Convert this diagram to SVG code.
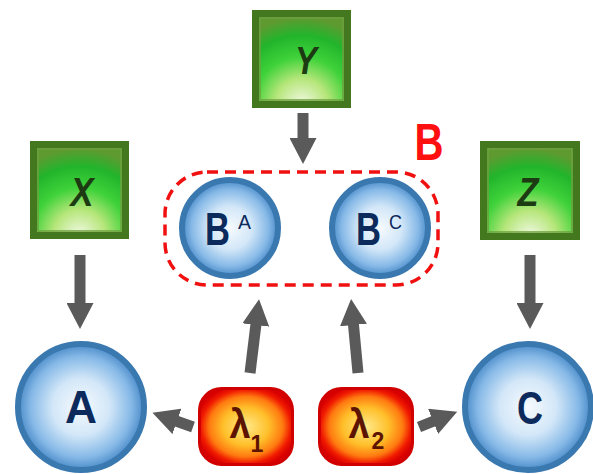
<svg xmlns="http://www.w3.org/2000/svg" width="593" height="474" viewBox="0 0 593 474">
<defs>
<radialGradient id="gGreen" cx="0.5" cy="1" r="0.95" fx="0.5" fy="1">
<stop offset="0" stop-color="#f2f9e6"/>
<stop offset="0.3" stop-color="#b6e67a"/>
<stop offset="0.55" stop-color="#3fd23a"/>
<stop offset="0.8" stop-color="#22b52c"/>
<stop offset="1" stop-color="#5e9a30"/>
</radialGradient>
<radialGradient id="gBlue" cx="0.5" cy="0.5" r="0.5">
<stop offset="0" stop-color="#f6fafd"/>
<stop offset="0.45" stop-color="#d3e7f8"/>
<stop offset="0.8" stop-color="#86b9e7"/>
<stop offset="1" stop-color="#4a8ac8"/>
</radialGradient>
<radialGradient id="gRed" cx="0.5" cy="0.5" r="0.55">
<stop offset="0" stop-color="#ffe98a"/>
<stop offset="0.45" stop-color="#ffbf2a"/>
<stop offset="0.72" stop-color="#ff7a10"/>
<stop offset="0.88" stop-color="#f01a00"/>
<stop offset="1" stop-color="#d80000"/>
</radialGradient>
<marker id="ah" viewBox="0 0 26 27" markerWidth="26" markerHeight="27" refX="1" refY="13.5" orient="auto" markerUnits="userSpaceOnUse">
<path d="M0,0 L26,13.5 L0,27 Z" fill="#5a5a5a"/>
</marker>
<style>
.box{fill:url(#gGreen);stroke:#44781f;stroke-width:7}
.boxin{fill:none;stroke:#6fa040;stroke-width:1.5}
.circ{fill:url(#gBlue);stroke:#3a78b0;stroke-width:6}
.lam{fill:url(#gRed);stroke:#d00000;stroke-width:3}
.gl{font-family:"Liberation Sans",Arial,sans-serif;font-weight:bold;font-style:italic;fill:#1c3b12;text-anchor:middle}
.bl{font-family:"Liberation Sans",Arial,sans-serif;font-weight:bold;fill:#0d2a5c}
.sup{font-family:"Liberation Sans",Arial,sans-serif;font-weight:normal;fill:#0d2a5c}
.rl{font-family:"Liberation Sans",Arial,sans-serif;font-weight:bold;fill:#5c1400}
.conn line{stroke:#5a5a5a;stroke-width:11;marker-end:url(#ah)}
</style>
</defs>
<rect width="593" height="474" fill="#ffffff"/>

<g id="groupB">
<rect x="165" y="172" width="273" height="113" rx="42" ry="42" fill="none" stroke="#f01010" stroke-width="3.5" stroke-dasharray="11 7"/>
<text x="429" y="160" font-family="'Liberation Sans',Arial,sans-serif" font-weight="bold" font-size="52" fill="#ff1010" text-anchor="middle" textLength="29" lengthAdjust="spacingAndGlyphs">B</text>
</g>

<g class="conn" id="connectors">
<line x1="80" y1="255" x2="80" y2="304"/>
<line x1="530" y1="255" x2="530" y2="304"/>
<line x1="303" y1="113" x2="303" y2="139"/>
<line x1="193" y1="427" x2="176" y2="421"/>
<line x1="419" y1="427" x2="434" y2="421"/>
<line x1="250" y1="373" x2="256" y2="324"/>
<line x1="358" y1="373" x2="353.4" y2="324"/>
</g>

<g id="X">
<rect class="box" x="33.5" y="144.5" width="92" height="91"/>
<rect class="boxin" x="38" y="149" width="83" height="82"/>
<text class="gl" x="82" y="206" font-size="40" textLength="23" lengthAdjust="spacingAndGlyphs">X</text>
</g>
<g id="Y">
<rect class="box" x="255.5" y="13.5" width="92" height="91"/>
<rect class="boxin" x="260" y="18" width="83" height="82"/>
<text class="gl" x="306" y="74" font-size="38" textLength="22" lengthAdjust="spacingAndGlyphs">Y</text>
</g>
<g id="Z">
<rect class="box" x="483.5" y="144.5" width="93" height="92"/>
<rect class="boxin" x="488" y="149" width="84" height="83"/>
<text class="gl" x="528" y="206" font-size="40" textLength="21" lengthAdjust="spacingAndGlyphs">Z</text>
</g>

<g id="BA">
<circle class="circ" cx="230" cy="228" r="48"/>
<text class="bl" x="205" y="245" font-size="46" textLength="25" lengthAdjust="spacingAndGlyphs">B</text>
<text class="sup" x="238" y="229" font-size="20" textLength="13" lengthAdjust="spacingAndGlyphs">A</text>
</g>
<g id="BC">
<circle class="circ" cx="380" cy="228" r="48"/>
<text class="bl" x="356" y="245" font-size="46" textLength="25" lengthAdjust="spacingAndGlyphs">B</text>
<text class="sup" x="389" y="229" font-size="20" textLength="13" lengthAdjust="spacingAndGlyphs">C</text>
</g>

<g id="A">
<circle class="circ" cx="81" cy="407" r="63"/>
<text class="bl" x="81" y="423" font-size="46" text-anchor="middle" textLength="32" lengthAdjust="spacingAndGlyphs">A</text>
</g>
<g id="C">
<circle class="circ" cx="528" cy="407" r="63"/>
<text class="bl" x="530" y="424" font-size="47" text-anchor="middle" textLength="26" lengthAdjust="spacingAndGlyphs">C</text>
</g>

<g id="lambda1">
<rect class="lam" x="199.5" y="388.5" width="93" height="76" rx="22" ry="22"/>
<text class="rl" x="240" y="438" font-size="40" text-anchor="middle" textLength="21" lengthAdjust="spacingAndGlyphs">λ</text>
<text class="rl" x="257" y="452" font-size="23" text-anchor="middle">1</text>
</g>
<g id="lambda2">
<rect class="lam" x="319.5" y="388.5" width="93" height="76" rx="22" ry="22"/>
<text class="rl" x="359" y="438" font-size="40" text-anchor="middle" textLength="21" lengthAdjust="spacingAndGlyphs">λ</text>
<text class="rl" x="378" y="449" font-size="23" text-anchor="middle">2</text>
</g>
</svg>
